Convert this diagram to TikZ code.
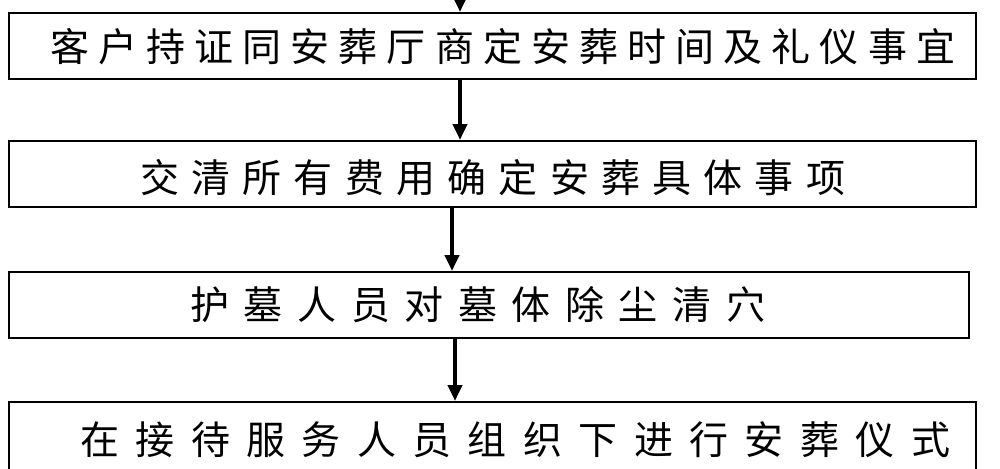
\documentclass[tikz,border=0pt]{standalone}
\usepackage{fontspec}
\newfontfamily\cjk{Noto Sans CJK SC}
\usetikzlibrary{arrows.meta}
\ExplSyntaxOn
\NewDocumentCommand\spread{mm}{\makebox[#1][s]{\tl_map_inline:nn{#2}{##1\hfil}\unskip}}
\ExplSyntaxOff
\begin{document}
\begin{tikzpicture}[x=1pt,y=-1pt,
  boxx/.style={draw,line width=1.8pt,minimum height=66pt,anchor=north west,inner sep=0pt},
  txt/.style={font=\cjk\fontsize{39}{39}\selectfont,anchor=west,inner sep=0pt},
  arr/.style={line width=4.5pt,-{Triangle[length=16pt,width=14pt]}}]
\useasboundingbox (0,0) rectangle (1000,468);
\node[boxx,minimum width=967pt] (b1) at (8,12) {};
\node[boxx,minimum width=967pt] (b2) at (8,140) {};
\node[boxx,minimum width=960pt] (b3) at (8,271) {};
\node[boxx,minimum width=967pt,minimum height=90pt] (b4) at (8,401) {};
\node[txt] (t1) at (50,47) {\spread{905pt}{客户持证同安葬厅商定安葬时间及礼仪事宜}};
\node[txt] (t2) at (140,178) {\spread{705pt}{交清所有费用确定安葬具体事项}};
\node[txt] (t3) at (190,305) {\spread{575pt}{护墓人员对墓体除尘清穴}};
\node[txt] (t4) at (80,440) {\spread{870pt}{在接待服务人员组织下进行安葬仪式}};
\coordinate (top) at (460,-2);
\draw[arr] (top) -- (top|-b1.north);
\draw[arr] (460,78) -- (460,140);
\draw[arr] (452,206) -- (452,271);
\draw[arr] (455,338) -- (455,401);
\end{tikzpicture}
\end{document}
